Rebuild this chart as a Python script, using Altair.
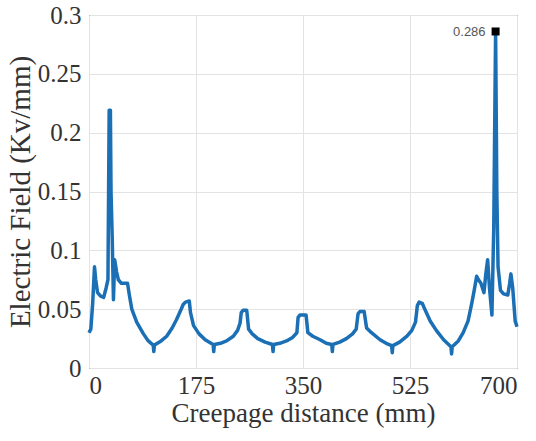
import altair as alt
import pandas as pd

x_vals = [0, 3, 6, 9, 11, 14, 19, 24, 28, 31, 33, 35, 36, 38, 40, 42, 45, 48, 53, 63, 66, 70, 78, 89, 97,
          105, 106, 107, 118, 127, 136, 143, 150, 154, 158, 164, 166, 171, 180, 190,
          203, 204, 205, 215, 225, 236, 243, 247, 249, 252, 258, 261, 267, 276, 288,
          300, 301, 302, 312, 323, 333, 340, 342, 345, 355, 358, 366, 378, 388,
          397, 398, 399, 410, 421, 431, 437, 440, 443, 450, 454, 462, 476, 486,
          495, 496, 497, 508, 520, 528, 534, 537, 540, 545, 550, 558, 568, 580,
          592, 593, 594, 604, 612, 620, 626, 630, 634, 637, 641, 646, 649, 652, 655, 659,
          662, 665, 667, 669, 673, 678, 685, 688, 690, 693, 697, 700]
y_vals = [0.030, 0.033, 0.055, 0.086, 0.075, 0.064, 0.061, 0.060, 0.068, 0.075, 0.219, 0.219, 0.150, 0.110, 0.058, 0.092, 0.082, 0.075, 0.072, 0.072, 0.062, 0.050, 0.039, 0.029, 0.023,
          0.0195, 0.014, 0.0195, 0.023, 0.027, 0.034, 0.041, 0.049, 0.054, 0.056, 0.057, 0.047, 0.036, 0.029, 0.024,
          0.020, 0.014, 0.020, 0.021, 0.023, 0.027, 0.032, 0.038, 0.047, 0.049, 0.049, 0.033, 0.029, 0.025, 0.022,
          0.020, 0.014, 0.020, 0.021, 0.023, 0.026, 0.030, 0.043, 0.045, 0.045, 0.030, 0.027, 0.024, 0.021,
          0.020, 0.014, 0.020, 0.022, 0.025, 0.029, 0.033, 0.046, 0.048, 0.048, 0.034, 0.030, 0.024, 0.021,
          0.019, 0.013, 0.019, 0.022, 0.027, 0.032, 0.039, 0.053, 0.056, 0.055, 0.049, 0.040, 0.032, 0.024,
          0.018, 0.012, 0.018, 0.023, 0.030, 0.040, 0.055, 0.066, 0.078, 0.075, 0.072, 0.064, 0.080, 0.092, 0.068, 0.045,
          0.120, 0.286, 0.150, 0.086, 0.066, 0.063, 0.062, 0.072, 0.080, 0.068, 0.040, 0.035]

peak_x = [665]
peak_y = [0.286]
peak_label = ["0.286"]

x_ticks = [0, 175, 350, 525, 700]
y_ticks = [0, 0.05, 0.1, 0.15, 0.2, 0.25, 0.3]

SERIF = "Liberation Serif"

df = pd.DataFrame({"x": x_vals, "y": y_vals})
pk = pd.DataFrame({"x": peak_x, "y": peak_y, "label": peak_label})

xscale = alt.Scale(domain=[0, 700], nice=False, zero=False)
yscale = alt.Scale(domain=[0, 0.3], nice=False)

xax = alt.Axis(values=x_ticks, title="Creepage distance (mm)", grid=True, ticks=False,
               labelFont=SERIF, labelFontSize=25, labelColor="#333333",
               titleFont=SERIF, titleFontSize=27, titleFontWeight="normal",
               titleColor="#333333", labelPadding=5, titlePadding=2, domain=False)
yax = alt.Axis(values=y_ticks, title="Electric Field (Kv/mm)", format="~g", grid=True, ticks=False,
               labelFont=SERIF, labelFontSize=25, labelColor="#333333",
               titleFont=SERIF, titleFontSize=29, titleFontWeight="normal",
               titleColor="#333333", labelPadding=8, titlePadding=2, domain=False)

line = alt.Chart(df).mark_line(color="#1a6fb5", strokeWidth=3.5, strokeJoin="round").encode(
    x=alt.X("x:Q", scale=xscale, axis=xax),
    y=alt.Y("y:Q", scale=yscale, axis=yax),
)

marker = alt.Chart(pk).mark_square(color="black", size=64, opacity=1).encode(
    x=alt.X("x:Q", scale=xscale), y=alt.Y("y:Q", scale=yscale)
)
label = alt.Chart(pk).mark_text(align="right", dx=-10, dy=1, fontSize=13, font="Liberation Sans",
                                color="#555555").encode(
    x=alt.X("x:Q", scale=xscale), y=alt.Y("y:Q", scale=yscale), text="label:N"
)

chart = (line + marker + label).properties(
    width=428, height=353,
    autosize=alt.AutoSizeParams(type="none"),
    padding={"left": 89, "top": 15, "right": 19, "bottom": 73},
).configure(background="white", font=SERIF).configure_view(
    stroke="#333333", strokeWidth=1
).configure_axis(gridColor="#e3e3e3", gridWidth=1, labelFont=SERIF, titleFont=SERIF)

chart.save("out.html", embed_options={"renderer": "svg", "actions": False})
